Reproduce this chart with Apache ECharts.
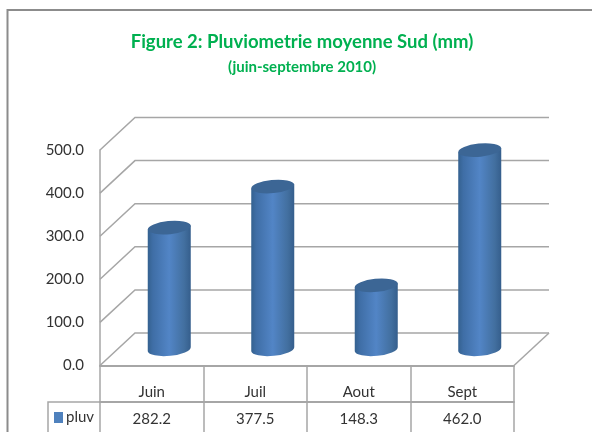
<!DOCTYPE html>
<html>
<head>
<meta charset="utf-8">
<style>
  html, body { margin: 0; padding: 0; background: #fff; }
  #chart { width: 592px; height: 432px; }
</style>
</head>
<body>
<div id="chart"></div>
<script src="https://cdn.jsdelivr.net/npm/echarts@6/dist/echarts.min.js"></script>
<script>
const months = ['Juin', 'Juil', 'Aout', 'Sept'];
const pluv = [282.2, 377.5, 148.3, 462.0];
const pluvLabels = ['282.2', '377.5', '148.3', '462.0'];
const valueTicks = [0, 100, 200, 300, 400, 500];

const fontName = 'Lato';
const gridColor = '#a6a6a6';
const textColor = '#333333';
// faux 3D: how far the back wall sits from the front plane
const depthX = 35;
const depthY = -32.5;

let myChart = echarts.init(document.getElementById('chart'));

function renderWall (params, api) {
  let p = api.coord([0, api.value(1)]);
  let left = params.coordSys.x;
  let right = left + params.coordSys.width;
  let lineStyle = { stroke: gridColor, lineWidth: 1.5, fill: null };
  let children = [
    { type: 'polyline', shape: { points: [[left, p[1]], [left + depthX, p[1] + depthY], [right + depthX, p[1] + depthY]] }, style: lineStyle }
  ];
  if (api.value(1) === 0) {
    children.push({ type: 'line', shape: { x1: right, y1: p[1], x2: right + depthX, y2: p[1] + depthY }, style: lineStyle });
  }
  return { type: 'group', children: children };
}

function renderCylinder (params, api) {
  let top = api.coord([api.value(0), api.value(1)]);
  let base = api.coord([api.value(0), 0]);
  let cx = top[0] + depthX / 2;
  let yTop = top[1] + depthY / 2;
  let yBot = base[1] + depthY / 2;
  let r = 21.5;
  let dy = 2;
  let a = 21.6;
  let b = 6.8;
  let tilt = -5.3;
  let arc = a + ' ' + b + ' ' + tilt;
  let body = 'M' + (cx - r) + ' ' + (yTop + dy) + ' L' + (cx - r) + ' ' + (yBot + dy) +
    ' A' + arc + ' 0 0 ' + (cx + r) + ' ' + (yBot - dy) +
    ' L' + (cx + r) + ' ' + (yTop - dy) + ' Z';
  let cap = 'M' + (cx - r) + ' ' + (yTop + dy) +
    ' A' + arc + ' 0 0 ' + (cx + r) + ' ' + (yTop - dy) +
    ' A' + arc + ' 0 0 ' + (cx - r) + ' ' + (yTop + dy) + ' Z';
  return {
    type: 'group',
    children: [
      {
        type: 'path',
        shape: { pathData: body },
        style: {
          fill: new echarts.graphic.LinearGradient(0, 0, 1, 0, [
            { offset: 0, color: '#34618f' },
            { offset: 0.12, color: '#3f6ea6' },
            { offset: 0.5, color: '#5285c6' },
            { offset: 0.85, color: '#426f9f' },
            { offset: 1, color: '#355e8c' }
          ])
        }
      },
      { type: 'path', shape: { pathData: cap }, style: { fill: '#3c6695' } }
    ]
  };
}

let option = {
  animation: false,
  backgroundColor: '#ffffff',
  textStyle: { fontFamily: fontName },
  title: {
    left: 297,
    top: 28,
    textAlign: 'center',
    text: 'Figure 2: Pluviometrie moyenne Sud (mm)',
    subtext: '(juin-septembre 2010)',
    itemGap: 8,
    textStyle: { color: '#00b050', fontFamily: fontName, fontSize: 18.5, fontWeight: 'bold' },
    subtextStyle: { color: '#00b050', fontFamily: fontName, fontSize: 15, fontWeight: 'bold' }
  },
  legend: {
    left: 54,
    top: 410,
    itemWidth: 9,
    itemHeight: 11,
    itemGap: 0,
    selectedMode: false,
    icon: 'rect',
    padding: 0,
    data: ['pluv'],
    itemStyle: { color: '#4f81bd' },
    textStyle: { color: textColor, fontFamily: fontName, fontSize: 15, padding: [0, 0, 0, -2] }
  },
  grid: { left: 100, right: 78, top: 150, bottom: 66.5 },
  xAxis: [
    {
      type: 'category',
      data: months,
      axisLine: { lineStyle: { color: gridColor, width: 2 } },
      axisTick: { show: true, length: 36, lineStyle: { color: gridColor, width: 1.5 } },
      axisLabel: { color: textColor, fontFamily: fontName, fontSize: 15, margin: 19 }
    },
    {
      type: 'category',
      position: 'bottom',
      offset: 36,
      data: pluvLabels,
      axisLine: { lineStyle: { color: gridColor, width: 2 } },
      axisTick: { show: true, length: 34, lineStyle: { color: gridColor, width: 1.5 } },
      axisLabel: { color: textColor, fontFamily: fontName, fontSize: 15, margin: 10 }
    }
  ],
  yAxis: {
    type: 'value',
    min: 0,
    max: 500,
    interval: 100,
    axisLine: { show: true, lineStyle: { color: gridColor, width: 1.5 } },
    axisTick: { show: false },
    splitLine: { show: false },
    axisLabel: {
      color: textColor,
      fontFamily: fontName,
      fontSize: 15,
      margin: 16,
      formatter: function (v) { return v.toFixed(1); }
    }
  },
  series: [
    {
      name: 'walls',
      type: 'custom',
      silent: true,
      renderItem: renderWall,
      encode: { x: 0, y: 1 },
      data: valueTicks.map(t => [0, t]),
      z: 1
    },
    {
      name: 'pluv',
      type: 'custom',
      renderItem: renderCylinder,
      encode: { x: 0, y: 1 },
      itemStyle: { color: '#4f81bd' },
      data: pluv.map((v, i) => [i, v]),
      z: 3
    }
  ],
  graphic: [
    // outer frame, cut off by the picture on the right and bottom
    { type: 'polyline', shape: { points: [[7.5, 440], [7.5, 10], [600, 10]] }, style: { stroke: '#8c8c8c', lineWidth: 2, fill: null } },
    // legend cell of the data table
    { type: 'polyline', shape: { points: [[48, 440], [48, 402], [100, 402]] }, style: { stroke: gridColor, lineWidth: 1.5, fill: null } }
  ]
};

myChart.setOption(option, true);
</script>
</body>
</html>
